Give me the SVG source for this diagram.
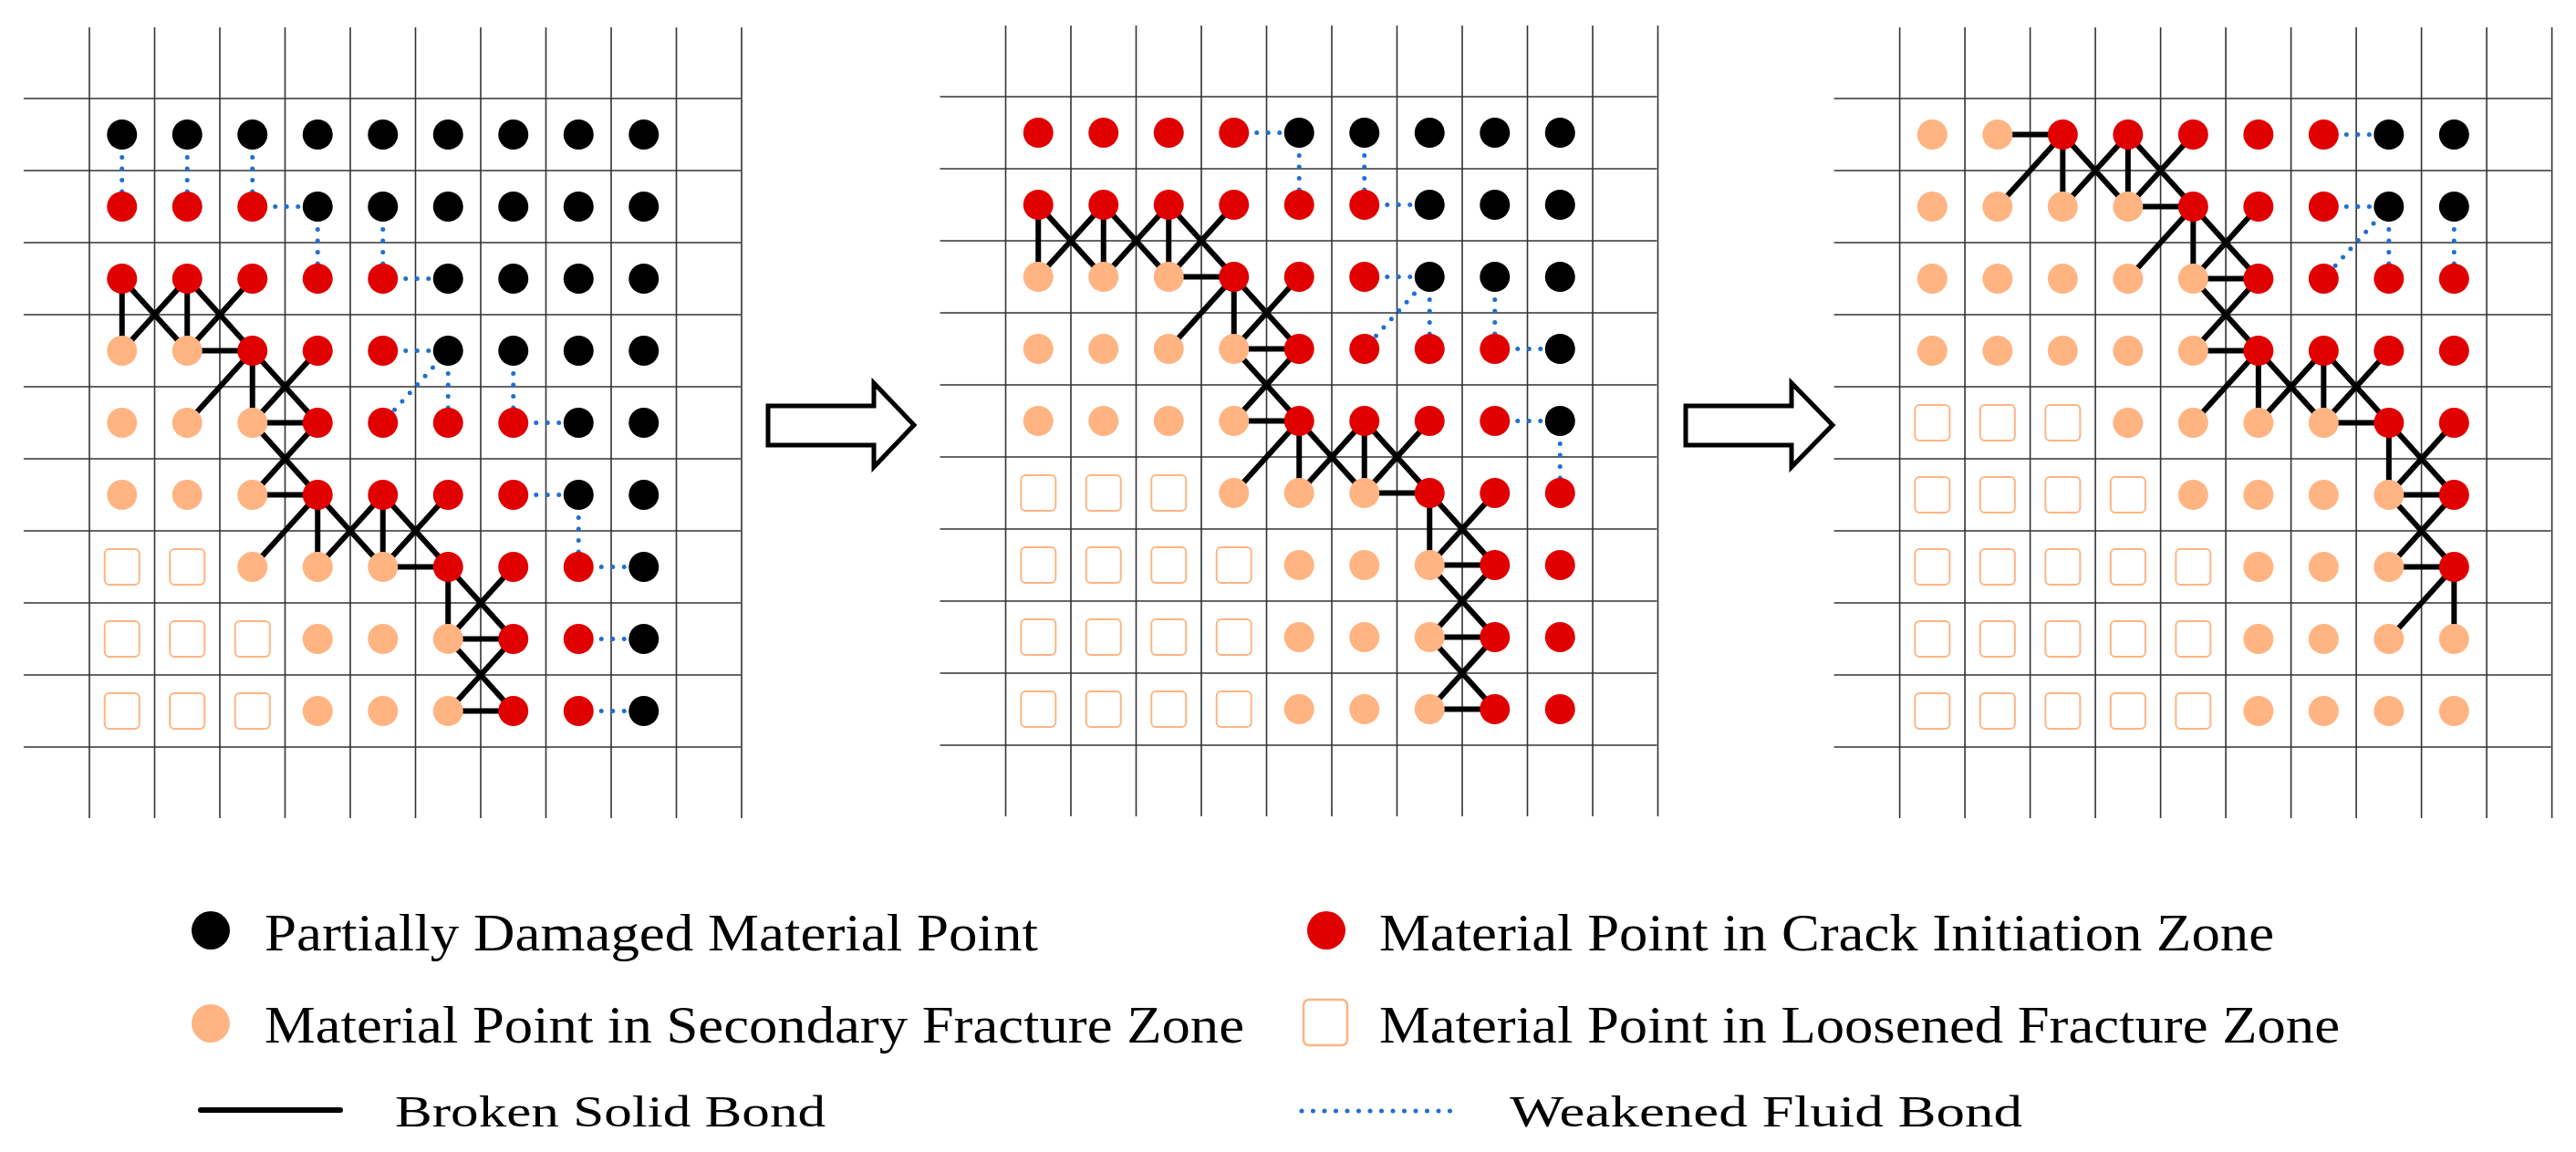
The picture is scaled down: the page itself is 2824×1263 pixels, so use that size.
<svg xmlns="http://www.w3.org/2000/svg" xmlns:xlink="http://www.w3.org/1999/xlink" width="2824" height="1263" viewBox="0 0 2824 1263">
<style>
.grid{stroke:#333;stroke-width:1.6;fill:none}
.solid{stroke:#000;stroke-width:6;fill:none;stroke-linecap:round}
.fluid{stroke:#1F6FD0;stroke-width:5;fill:none;stroke-linecap:round;stroke-dasharray:0 12.5}
.arrow{fill:#fff;stroke:#000;stroke-width:5}
.lg{font-family:"Liberation Serif","Times New Roman",serif;font-size:57px;fill:#000}
.lg2{font-family:"Liberation Serif","Times New Roman",serif;font-size:48px;fill:#000}
</style>
<defs>
<circle id="B" r="16.5" fill="#000"/>
<circle id="R" r="16.5" fill="#E00000"/>
<circle id="O" r="16.5" fill="#FFB482"/>
<rect id="S" x="-19" y="-19.5" width="38" height="39" rx="5" fill="#fff" stroke="#FFB482" stroke-width="2"/>
<g id="grid">
<path class="grid" d="M0 -78V789M71.5 -78V789M143 -78V789M214.5 -78V789M286 -78V789M357.5 -78V789M429 -78V789M500.5 -78V789M572 -78V789M643.5 -78V789M715 -78V789"/>
<path class="grid" d="M-72 0H714M-72 79H714M-72 158H714M-72 237H714M-72 316H714M-72 395H714M-72 474H714M-72 553H714M-72 632H714M-72 711H714"/>
</g>
</defs>
<rect width="2824" height="1263" fill="#fff"/>

<!-- Panel 1 -->
<g id="panel1" transform="translate(98,108)">
<use href="#grid"/>
<g id="panel1-connectors">
<path class="solid" d="M35.75 197.5V276.5M35.75 197.5L107.25 276.5M35.75 276.5L107.25 197.5M107.25 197.5V276.5M107.25 197.5L178.75 276.5M107.25 276.5L178.75 197.5M107.25 276.5H178.75M178.75 276.5L107.25 355.5M178.75 276.5V355.5M178.75 276.5L250.25 355.5M178.75 355.5L250.25 276.5M178.75 355.5H250.25M178.75 355.5L250.25 434.5M250.25 355.5L178.75 434.5M178.75 434.5H250.25M250.25 434.5L178.75 513.5M250.25 434.5V513.5M250.25 434.5L321.75 513.5M250.25 513.5L321.75 434.5M321.75 434.5V513.5M321.75 434.5L393.25 513.5M321.75 513.5L393.25 434.5M321.75 513.5H393.25M393.25 513.5V592.5M393.25 513.5L464.75 592.5M393.25 592.5L464.75 513.5M393.25 592.5H464.75M393.25 592.5L464.75 671.5M464.75 592.5L393.25 671.5M393.25 671.5H464.75"/>
<path class="fluid" d="M35.75 39.5V118.5M107.25 39.5V118.5M178.75 39.5V118.5M178.75 118.5H250.25M250.25 118.5V197.5M321.75 118.5V197.5M321.75 197.5H393.25M321.75 276.5H393.25M393.25 276.5L321.75 355.5M393.25 276.5V355.5M464.75 276.5V355.5M464.75 355.5H536.25M464.75 434.5H536.25M536.25 434.5V513.5M536.25 513.5H607.75M536.25 592.5H607.75M536.25 671.5H607.75"/>
</g>
<g id="panel1-points">
<g transform="translate(0,39.5)"><use href="#B" x="35.75"/><use href="#B" x="107.25"/><use href="#B" x="178.75"/><use href="#B" x="250.25"/><use href="#B" x="321.75"/><use href="#B" x="393.25"/><use href="#B" x="464.75"/><use href="#B" x="536.25"/><use href="#B" x="607.75"/></g>
<g transform="translate(0,118.5)"><use href="#R" x="35.75"/><use href="#R" x="107.25"/><use href="#R" x="178.75"/><use href="#B" x="250.25"/><use href="#B" x="321.75"/><use href="#B" x="393.25"/><use href="#B" x="464.75"/><use href="#B" x="536.25"/><use href="#B" x="607.75"/></g>
<g transform="translate(0,197.5)"><use href="#R" x="35.75"/><use href="#R" x="107.25"/><use href="#R" x="178.75"/><use href="#R" x="250.25"/><use href="#R" x="321.75"/><use href="#B" x="393.25"/><use href="#B" x="464.75"/><use href="#B" x="536.25"/><use href="#B" x="607.75"/></g>
<g transform="translate(0,276.5)"><use href="#O" x="35.75"/><use href="#O" x="107.25"/><use href="#R" x="178.75"/><use href="#R" x="250.25"/><use href="#R" x="321.75"/><use href="#B" x="393.25"/><use href="#B" x="464.75"/><use href="#B" x="536.25"/><use href="#B" x="607.75"/></g>
<g transform="translate(0,355.5)"><use href="#O" x="35.75"/><use href="#O" x="107.25"/><use href="#O" x="178.75"/><use href="#R" x="250.25"/><use href="#R" x="321.75"/><use href="#R" x="393.25"/><use href="#R" x="464.75"/><use href="#B" x="536.25"/><use href="#B" x="607.75"/></g>
<g transform="translate(0,434.5)"><use href="#O" x="35.75"/><use href="#O" x="107.25"/><use href="#O" x="178.75"/><use href="#R" x="250.25"/><use href="#R" x="321.75"/><use href="#R" x="393.25"/><use href="#R" x="464.75"/><use href="#B" x="536.25"/><use href="#B" x="607.75"/></g>
<g transform="translate(0,513.5)"><use href="#S" x="35.75"/><use href="#S" x="107.25"/><use href="#O" x="178.75"/><use href="#O" x="250.25"/><use href="#O" x="321.75"/><use href="#R" x="393.25"/><use href="#R" x="464.75"/><use href="#R" x="536.25"/><use href="#B" x="607.75"/></g>
<g transform="translate(0,592.5)"><use href="#S" x="35.75"/><use href="#S" x="107.25"/><use href="#S" x="178.75"/><use href="#O" x="250.25"/><use href="#O" x="321.75"/><use href="#O" x="393.25"/><use href="#R" x="464.75"/><use href="#R" x="536.25"/><use href="#B" x="607.75"/></g>
<g transform="translate(0,671.5)"><use href="#S" x="35.75"/><use href="#S" x="107.25"/><use href="#S" x="178.75"/><use href="#O" x="250.25"/><use href="#O" x="321.75"/><use href="#O" x="393.25"/><use href="#R" x="464.75"/><use href="#R" x="536.25"/><use href="#B" x="607.75"/></g>
</g>
</g>

<!-- Panel 2 -->
<g id="panel2" transform="translate(1102.5,106)">
<use href="#grid"/>
<g id="panel2-connectors">
<path class="solid" d="M35.75 118.5V197.5M35.75 118.5L107.25 197.5M35.75 197.5L107.25 118.5M107.25 118.5V197.5M107.25 118.5L178.75 197.5M107.25 197.5L178.75 118.5M178.75 118.5V197.5M178.75 118.5L250.25 197.5M178.75 197.5L250.25 118.5M178.75 197.5H250.25M250.25 197.5L178.75 276.5M250.25 197.5V276.5M250.25 197.5L321.75 276.5M250.25 276.5L321.75 197.5M250.25 276.5H321.75M250.25 276.5L321.75 355.5M250.25 355.5L321.75 276.5M250.25 355.5H321.75M321.75 355.5L250.25 434.5M321.75 355.5V434.5M321.75 355.5L393.25 434.5M321.75 434.5L393.25 355.5M393.25 355.5V434.5M393.25 355.5L464.75 434.5M393.25 434.5L464.75 355.5M393.25 434.5H464.75M464.75 434.5V513.5M464.75 434.5L536.25 513.5M464.75 513.5L536.25 434.5M464.75 513.5H536.25M464.75 513.5L536.25 592.5M464.75 592.5L536.25 513.5M464.75 592.5H536.25M464.75 592.5L536.25 671.5M464.75 671.5L536.25 592.5M464.75 671.5H536.25"/>
<path class="fluid" d="M250.25 39.5H321.75M321.75 39.5V118.5M393.25 39.5V118.5M393.25 118.5H464.75M393.25 197.5H464.75M464.75 197.5L393.25 276.5M464.75 197.5V276.5M536.25 197.5V276.5M536.25 276.5H607.75M536.25 355.5H607.75M607.75 355.5V434.5"/>
</g>
<g id="panel2-points">
<g transform="translate(0,39.5)"><use href="#R" x="35.75"/><use href="#R" x="107.25"/><use href="#R" x="178.75"/><use href="#R" x="250.25"/><use href="#B" x="321.75"/><use href="#B" x="393.25"/><use href="#B" x="464.75"/><use href="#B" x="536.25"/><use href="#B" x="607.75"/></g>
<g transform="translate(0,118.5)"><use href="#R" x="35.75"/><use href="#R" x="107.25"/><use href="#R" x="178.75"/><use href="#R" x="250.25"/><use href="#R" x="321.75"/><use href="#R" x="393.25"/><use href="#B" x="464.75"/><use href="#B" x="536.25"/><use href="#B" x="607.75"/></g>
<g transform="translate(0,197.5)"><use href="#O" x="35.75"/><use href="#O" x="107.25"/><use href="#O" x="178.75"/><use href="#R" x="250.25"/><use href="#R" x="321.75"/><use href="#R" x="393.25"/><use href="#B" x="464.75"/><use href="#B" x="536.25"/><use href="#B" x="607.75"/></g>
<g transform="translate(0,276.5)"><use href="#O" x="35.75"/><use href="#O" x="107.25"/><use href="#O" x="178.75"/><use href="#O" x="250.25"/><use href="#R" x="321.75"/><use href="#R" x="393.25"/><use href="#R" x="464.75"/><use href="#R" x="536.25"/><use href="#B" x="607.75"/></g>
<g transform="translate(0,355.5)"><use href="#O" x="35.75"/><use href="#O" x="107.25"/><use href="#O" x="178.75"/><use href="#O" x="250.25"/><use href="#R" x="321.75"/><use href="#R" x="393.25"/><use href="#R" x="464.75"/><use href="#R" x="536.25"/><use href="#B" x="607.75"/></g>
<g transform="translate(0,434.5)"><use href="#S" x="35.75"/><use href="#S" x="107.25"/><use href="#S" x="178.75"/><use href="#O" x="250.25"/><use href="#O" x="321.75"/><use href="#O" x="393.25"/><use href="#R" x="464.75"/><use href="#R" x="536.25"/><use href="#R" x="607.75"/></g>
<g transform="translate(0,513.5)"><use href="#S" x="35.75"/><use href="#S" x="107.25"/><use href="#S" x="178.75"/><use href="#S" x="250.25"/><use href="#O" x="321.75"/><use href="#O" x="393.25"/><use href="#O" x="464.75"/><use href="#R" x="536.25"/><use href="#R" x="607.75"/></g>
<g transform="translate(0,592.5)"><use href="#S" x="35.75"/><use href="#S" x="107.25"/><use href="#S" x="178.75"/><use href="#S" x="250.25"/><use href="#O" x="321.75"/><use href="#O" x="393.25"/><use href="#O" x="464.75"/><use href="#R" x="536.25"/><use href="#R" x="607.75"/></g>
<g transform="translate(0,671.5)"><use href="#S" x="35.75"/><use href="#S" x="107.25"/><use href="#S" x="178.75"/><use href="#S" x="250.25"/><use href="#O" x="321.75"/><use href="#O" x="393.25"/><use href="#O" x="464.75"/><use href="#R" x="536.25"/><use href="#R" x="607.75"/></g>
</g>
</g>

<!-- Panel 3 -->
<g id="panel3" transform="translate(2082.6,108)">
<use href="#grid"/>
<g id="panel3-connectors">
<path class="solid" d="M107.25 39.5H178.75M178.75 39.5L107.25 118.5M178.75 39.5V118.5M178.75 39.5L250.25 118.5M178.75 118.5L250.25 39.5M250.25 39.5V118.5M250.25 39.5L321.75 118.5M250.25 118.5L321.75 39.5M250.25 118.5H321.75M321.75 118.5L250.25 197.5M321.75 118.5V197.5M321.75 118.5L393.25 197.5M321.75 197.5L393.25 118.5M321.75 197.5H393.25M321.75 197.5L393.25 276.5M321.75 276.5L393.25 197.5M321.75 276.5H393.25M393.25 276.5L321.75 355.5M393.25 276.5V355.5M393.25 276.5L464.75 355.5M393.25 355.5L464.75 276.5M464.75 276.5V355.5M464.75 276.5L536.25 355.5M464.75 355.5L536.25 276.5M464.75 355.5H536.25M536.25 355.5V434.5M536.25 355.5L607.75 434.5M536.25 434.5L607.75 355.5M536.25 434.5H607.75M536.25 434.5L607.75 513.5M536.25 513.5L607.75 434.5M536.25 513.5H607.75M607.75 513.5L536.25 592.5M607.75 513.5V592.5"/>
<path class="fluid" d="M464.75 39.5H536.25M464.75 118.5H536.25M536.25 118.5L464.75 197.5M536.25 118.5V197.5M607.75 118.5V197.5"/>
</g>
<g id="panel3-points">
<g transform="translate(0,39.5)"><use href="#O" x="35.75"/><use href="#O" x="107.25"/><use href="#R" x="178.75"/><use href="#R" x="250.25"/><use href="#R" x="321.75"/><use href="#R" x="393.25"/><use href="#R" x="464.75"/><use href="#B" x="536.25"/><use href="#B" x="607.75"/></g>
<g transform="translate(0,118.5)"><use href="#O" x="35.75"/><use href="#O" x="107.25"/><use href="#O" x="178.75"/><use href="#O" x="250.25"/><use href="#R" x="321.75"/><use href="#R" x="393.25"/><use href="#R" x="464.75"/><use href="#B" x="536.25"/><use href="#B" x="607.75"/></g>
<g transform="translate(0,197.5)"><use href="#O" x="35.75"/><use href="#O" x="107.25"/><use href="#O" x="178.75"/><use href="#O" x="250.25"/><use href="#O" x="321.75"/><use href="#R" x="393.25"/><use href="#R" x="464.75"/><use href="#R" x="536.25"/><use href="#R" x="607.75"/></g>
<g transform="translate(0,276.5)"><use href="#O" x="35.75"/><use href="#O" x="107.25"/><use href="#O" x="178.75"/><use href="#O" x="250.25"/><use href="#O" x="321.75"/><use href="#R" x="393.25"/><use href="#R" x="464.75"/><use href="#R" x="536.25"/><use href="#R" x="607.75"/></g>
<g transform="translate(0,355.5)"><use href="#S" x="35.75"/><use href="#S" x="107.25"/><use href="#S" x="178.75"/><use href="#O" x="250.25"/><use href="#O" x="321.75"/><use href="#O" x="393.25"/><use href="#O" x="464.75"/><use href="#R" x="536.25"/><use href="#R" x="607.75"/></g>
<g transform="translate(0,434.5)"><use href="#S" x="35.75"/><use href="#S" x="107.25"/><use href="#S" x="178.75"/><use href="#S" x="250.25"/><use href="#O" x="321.75"/><use href="#O" x="393.25"/><use href="#O" x="464.75"/><use href="#O" x="536.25"/><use href="#R" x="607.75"/></g>
<g transform="translate(0,513.5)"><use href="#S" x="35.75"/><use href="#S" x="107.25"/><use href="#S" x="178.75"/><use href="#S" x="250.25"/><use href="#S" x="321.75"/><use href="#O" x="393.25"/><use href="#O" x="464.75"/><use href="#O" x="536.25"/><use href="#R" x="607.75"/></g>
<g transform="translate(0,592.5)"><use href="#S" x="35.75"/><use href="#S" x="107.25"/><use href="#S" x="178.75"/><use href="#S" x="250.25"/><use href="#S" x="321.75"/><use href="#O" x="393.25"/><use href="#O" x="464.75"/><use href="#O" x="536.25"/><use href="#O" x="607.75"/></g>
<g transform="translate(0,671.5)"><use href="#S" x="35.75"/><use href="#S" x="107.25"/><use href="#S" x="178.75"/><use href="#S" x="250.25"/><use href="#S" x="321.75"/><use href="#O" x="393.25"/><use href="#O" x="464.75"/><use href="#O" x="536.25"/><use href="#O" x="607.75"/></g>
</g>
</g>

<!-- Arrows -->
<g id="arrows">
<path class="arrow" d="M842 445H958V420L1002 466L958 512V488H842Z"/>
<path class="arrow" d="M1848 445H1964V420L2009 466L1964 512V488H1848Z"/>
</g>

<!-- Legend -->
<g id="legend">
<circle cx="231" cy="1020" r="21" fill="#000"/>
<text class="lg" x="290" y="1042" textLength="848" lengthAdjust="spacingAndGlyphs">Partially Damaged Material Point</text>
<circle cx="231" cy="1122" r="21" fill="#FFB482"/>
<text class="lg" x="290" y="1143" textLength="1074" lengthAdjust="spacingAndGlyphs">Material Point in Secondary Fracture Zone</text>
<line x1="220" y1="1217" x2="373" y2="1217" stroke="#000" stroke-width="6" stroke-linecap="round"/>
<text class="lg2" x="433" y="1235" textLength="472" lengthAdjust="spacingAndGlyphs">Broken Solid Bond</text>
<circle cx="1454" cy="1020" r="21" fill="#E00000"/>
<text class="lg" x="1512" y="1042" textLength="981" lengthAdjust="spacingAndGlyphs">Material Point in Crack Initiation Zone</text>
<rect x="1429" y="1096" width="48" height="50" rx="6" fill="#fff" stroke="#FFB482" stroke-width="2.5"/>
<text class="lg" x="1512" y="1143" textLength="1053" lengthAdjust="spacingAndGlyphs">Material Point in Loosened Fracture Zone</text>
<line class="fluid" x1="1427" y1="1218" x2="1591" y2="1218"/>
<text class="lg2" x="1655" y="1235" textLength="562" lengthAdjust="spacingAndGlyphs">Weakened Fluid Bond</text>
</g>
</svg>
